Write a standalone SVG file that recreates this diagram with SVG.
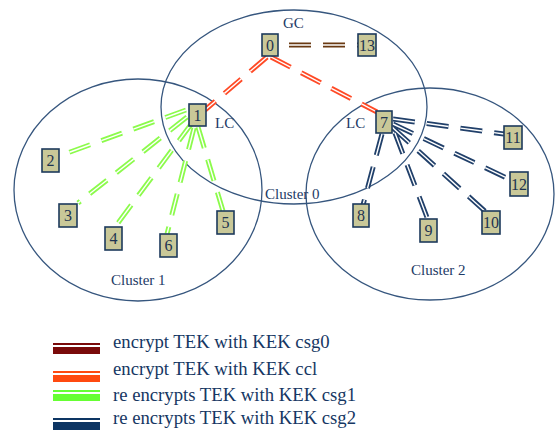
<svg xmlns="http://www.w3.org/2000/svg" width="555" height="432" viewBox="0 0 555 432">
<style>
.cl{fill:none;stroke:#36567e;stroke-width:1.3}
.box{fill:#c9c898;stroke:#1d3a5c;stroke-width:1.6}
.num{font-family:"Liberation Serif",serif;font-size:16px;fill:#1d3350;text-anchor:middle}
.lbl{font-family:"Liberation Serif",serif;font-size:15px;fill:#1d3a66}
.leg{font-family:"Liberation Serif",serif;font-size:18.7px;fill:#163763}
.o{fill:none;stroke-width:5;stroke-dasharray:22 12}
.i{fill:none;stroke:#fff;stroke-width:1.4;stroke-dasharray:22 12}
.br{stroke:#6a3a12}
.rd{stroke:#ff4a26}
.gr{stroke:#8cfb4c}
.nv{stroke:#21406a}
</style>
<g id="clusters">
<ellipse class="cl" cx="294" cy="107" rx="133" ry="97"/>
<ellipse class="cl" cx="138" cy="190" rx="124" ry="111"/>
<ellipse class="cl" cx="430" cy="194" rx="124" ry="106"/>
</g>
<g id="labels">
<text class="lbl" x="283" y="28">GC</text>
<text class="lbl" x="215" y="128">LC</text>
<text class="lbl" x="346" y="128">LC</text>
<text class="lbl" x="265" y="199">Cluster 0</text>
<text class="lbl" x="111" y="285">Cluster 1</text>
<text class="lbl" x="411" y="275">Cluster 2</text>
</g>
<g id="connectors">
<g class="o br"><path d="M289 45H358"/></g>
<g class="i"><path d="M289 45H358"/></g>
<g class="o rd"><path d="M267 57L205 110M271 57L377 112"/></g>
<g class="i"><path d="M267 57L205 110M271 57L377 112"/></g>
<g class="o gr"><path d="M186 110L59 156M187 117L78 203M192 123L115 227M194 128L167 234M198 127L223 211"/></g>
<g class="i"><path d="M186 110L59 156M187 117L78 203M192 123L115 227M194 128L167 234M198 127L223 211"/></g>
<g class="o nv"><path d="M393 119L504 134M393 124L511 180M393 128L488 214M395 133L428 220M382 134L363 205"/></g>
<g class="i"><path d="M393 119L504 134M393 124L511 180M393 128L488 214M395 133L428 220M382 134L363 205"/></g>
</g>
<g id="n0"><rect class="box" x="262" y="34" width="16" height="22"/><text class="num" x="270" y="51">0</text></g>
<g id="n13"><rect class="box" x="358" y="34" width="18" height="22"/><text class="num" x="367" y="51">13</text></g>
<g id="n1"><rect class="box" x="189" y="104" width="17" height="22"/><text class="num" x="197.5" y="121">1</text></g>
<g id="n7"><rect class="box" x="376" y="111" width="16" height="22"/><text class="num" x="384" y="128">7</text></g>
<g id="n2"><rect class="box" x="42" y="149" width="17" height="23"/><text class="num" x="50.5" y="166">2</text></g>
<g id="n3"><rect class="box" x="59" y="204" width="18" height="23"/><text class="num" x="68" y="221">3</text></g>
<g id="n4"><rect class="box" x="105" y="227" width="17" height="23"/><text class="num" x="113.5" y="244">4</text></g>
<g id="n6"><rect class="box" x="160" y="234" width="17" height="23"/><text class="num" x="168.5" y="251">6</text></g>
<g id="n5"><rect class="box" x="217" y="211" width="17" height="23"/><text class="num" x="225.5" y="228">5</text></g>
<g id="n8"><rect class="box" x="353" y="204" width="16" height="23"/><text class="num" x="361" y="221">8</text></g>
<g id="n9"><rect class="box" x="420" y="219" width="17" height="23"/><text class="num" x="428.5" y="236">9</text></g>
<g id="n10"><rect class="box" x="482" y="211" width="18" height="23"/><text class="num" x="491" y="228">10</text></g>
<g id="n11"><rect class="box" x="504" y="126" width="18" height="23"/><text class="num" x="513" y="143">11</text></g>
<g id="n12"><rect class="box" x="510" y="172" width="18" height="24"/><text class="num" x="519" y="190">12</text></g>
<g id="legend">
<rect x="53" y="343" width="47" height="2" fill="#7a0a0a"/><rect x="53" y="347" width="47" height="7" fill="#7a0a0a"/>
<rect x="53" y="371" width="47" height="2" fill="#ff4a10"/><rect x="53" y="375" width="47" height="7" fill="#ff4a10"/>
<rect x="53" y="390" width="47" height="2" fill="#66ff33"/><rect x="53" y="394" width="47" height="7" fill="#66ff33"/>
<rect x="53" y="418" width="47" height="2" fill="#0d3563"/><rect x="53" y="422" width="47" height="8" fill="#0d3563"/>
<text class="leg" x="113" y="348">encrypt TEK with KEK csg0</text>
<text class="leg" x="113" y="375">encrypt TEK with KEK ccl</text>
<text class="leg" x="113" y="401">re encrypts TEK with KEK csg1</text>
<text class="leg" x="113" y="424">re encrypts TEK with KEK csg2</text>
</g>
</svg>
